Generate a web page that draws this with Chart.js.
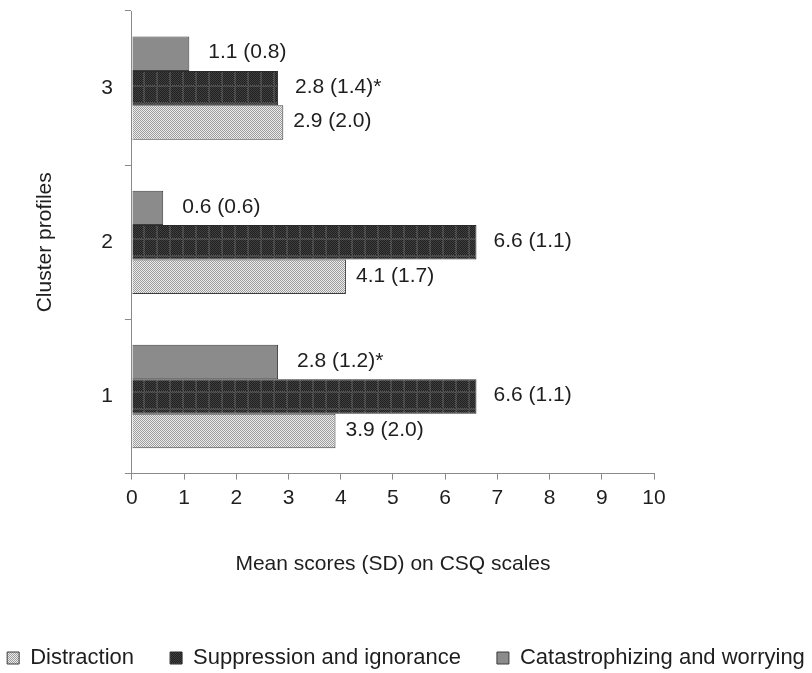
<!DOCTYPE html>
<html>
<head>
<meta charset="utf-8">
<script src="https://cdn.jsdelivr.net/npm/chart.js@4"></script>
<style>
  html, body { margin: 0; padding: 0; background: #fff; }
  #wrap { width: 812px; height: 673px; }
</style>
</head>
<body>
<div id="wrap"><canvas id="c" width="812" height="673"></canvas></div>
<script>
// Cluster profiles, listed top to bottom
const clusters = ['3', '2', '1'];

// Mean scores and standard deviations on the CSQ scales, per cluster (3, 2, 1)
const catastrophizingMean = [1.1, 0.6, 2.8];
const catastrophizingSD   = [0.8, 0.6, 1.2];
const catastrophizingSig  = [false, false, true];

const suppressionMean = [2.8, 6.6, 6.6];
const suppressionSD   = [1.4, 1.1, 1.1];
const suppressionSig  = [true, false, false];

const distractionMean = [2.9, 4.1, 3.9];
const distractionSD   = [2.0, 1.7, 2.0];
const distractionSig  = [false, false, false];

const xTicks = [0, 1, 2, 3, 4, 5, 6, 7, 8, 9, 10];

const FONT = 'Liberation Sans, Arial, sans-serif';
const TEXT = '#1e1e1e';
const AXIS = '#8a8a8a';

// Fine light crosshatch fill
function lightPattern() {
  const t = document.createElement('canvas');
  t.width = 4; t.height = 4;
  const g = t.getContext('2d');
  g.fillStyle = '#ececec';
  g.fillRect(0, 0, 4, 4);
  g.fillStyle = '#9c9c9c';
  for (let y = 0; y < 4; y++) {
    for (let x = 0; x < 4; x++) {
      if ((x + y) % 2 === 0) g.fillRect(x, y, 1, 1);
    }
  }
  return g.createPattern(t, 'repeat');
}

// Dark checkered fill with a faint lighter grid
function darkPattern() {
  const w = 13, h = 17;
  const t = document.createElement('canvas');
  t.width = w; t.height = h;
  const g = t.getContext('2d');
  for (let y = 0; y < h; y++) {
    for (let x = 0; x < w; x++) {
      const onGrid = x < 2 || y < 2;
      const odd = (x + y) % 2 === 0;
      if (onGrid) g.fillStyle = odd ? '#3a3a3a' : '#585858';
      else g.fillStyle = odd ? '#202020' : '#404040';
      g.fillRect(x, y, 1, 1);
    }
  }
  return g.createPattern(t, 'repeat');
}

function labelTexts(means, sds, sig) {
  return means.map((m, i) => m.toFixed(1) + ' (' + sds[i].toFixed(1) + ')' + (sig[i] ? '*' : ''));
}

// vertical scales need no extra room above/below the plot
function noVerticalPadding(scale) {
  scale.paddingTop = 0;
  scale.paddingBottom = 0;
}

const ctx = document.getElementById('c').getContext('2d');

const datasets = [
  {
    label: 'Catastrophizing and worrying',
    data: catastrophizingMean,
    valueLabels: labelTexts(catastrophizingMean, catastrophizingSD, catastrophizingSig),
    labelGap: 19,
    backgroundColor: '#8b8b8b',
    borderColor: '#3c3c3c',
    borderWidth: 1
  },
  {
    label: 'Suppression and ignorance',
    data: suppressionMean,
    valueLabels: labelTexts(suppressionMean, suppressionSD, suppressionSig),
    labelGap: 17,
    backgroundColor: darkPattern(),
    borderColor: '#2a2a2a',
    borderWidth: 1
  },
  {
    label: 'Distraction',
    data: distractionMean,
    valueLabels: labelTexts(distractionMean, distractionSD, distractionSig),
    labelGap: 10,
    backgroundColor: lightPattern(),
    borderColor: '#3c3c3c',
    borderWidth: 1
  }
];

// Writes "mean (SD)" to the right of each bar
const valueLabelPlugin = {
  id: 'valueLabels',
  afterDatasetsDraw(chart) {
    const c = chart.ctx;
    c.save();
    c.font = '21px ' + FONT;
    c.fillStyle = TEXT;
    c.textAlign = 'left';
    c.textBaseline = 'middle';
    chart.data.datasets.forEach((ds, di) => {
      const meta = chart.getDatasetMeta(di);
      meta.data.forEach((bar, i) => {
        c.fillText(ds.valueLabels[i], bar.x + ds.labelGap, bar.y - 1);
      });
    });
    c.restore();
  }
};

new Chart(ctx, {
  type: 'bar',
  data: { labels: clusters, datasets },
  plugins: [valueLabelPlugin],
  options: {
    indexAxis: 'y',
    responsive: false,
    animation: false,
    events: [],
    // wide legend row: let the layout box run past the canvas edges
    layout: { padding: { top: 11, right: -30, bottom: -6, left: -30 } },
    datasets: {
      bar: { categoryPercentage: 0.67, barPercentage: 1.0 }
    },
    scales: {
      x: {
        type: 'linear',
        min: 0,
        max: 10,
        afterBuildTicks(scale) { scale.ticks = xTicks.map(v => ({ value: v })); },
        grid: { drawOnChartArea: false, drawTicks: true, tickLength: 6, color: AXIS, lineWidth: 1 },
        border: { display: true, color: AXIS, width: 1 },
        ticks: { color: TEXT, font: { family: FONT, size: 21 }, padding: 6, maxRotation: 0 },
        title: {
          display: true,
          text: 'Mean scores (SD) on CSQ scales',
          color: TEXT,
          font: { family: FONT, size: 21 },
          padding: { top: 35, bottom: 34 }
        }
      },
      y: {
        type: 'category',
        offset: true,
        afterFit: noVerticalPadding,
        grid: { offset: true, drawOnChartArea: false, drawTicks: true, tickLength: 7, color: AXIS, lineWidth: 1 },
        border: { display: true, color: AXIS, width: 1 },
        ticks: { color: TEXT, font: { family: FONT, size: 21 }, padding: 12 },
        title: {
          display: true,
          text: 'Cluster profiles',
          color: TEXT,
          font: { family: FONT, size: 21 },
          padding: { top: 63, bottom: 31 }
        }
      },
      // empty right-hand gutter beside the plot
      gutter: {
        type: 'linear',
        position: 'right',
        display: true,
        grid: { display: false },
        border: { display: false },
        ticks: { display: false },
        afterFit(scale) { scale.width = 188; noVerticalPadding(scale); }
      }
    },
    plugins: {
      tooltip: { enabled: false },
      legend: {
        display: true,
        position: 'bottom',
        reverse: true,
        labels: {
          color: TEXT,
          font: { family: FONT, size: 22 },
          boxWidth: 12,
          boxHeight: 12,
          padding: 36
        }
      }
    }
  }
});
</script>
</body>
</html>
